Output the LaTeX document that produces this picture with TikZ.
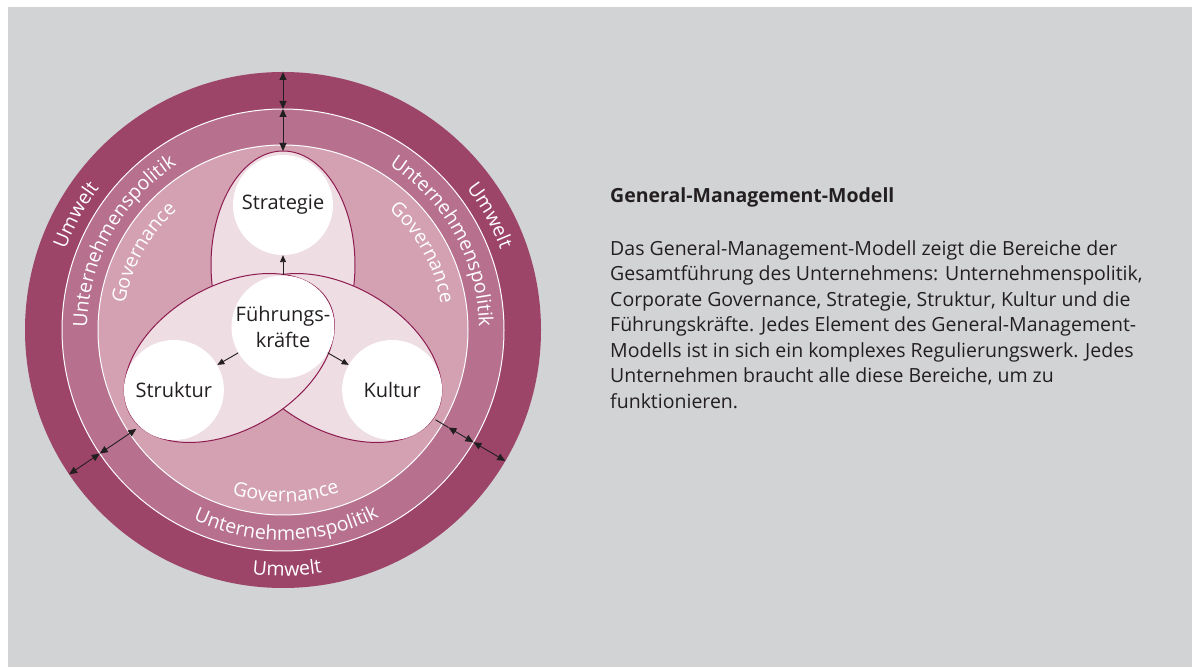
\documentclass[tikz,border=0pt]{standalone}
\usepackage{fontspec}
\setmainfont{Open Sans}
\usepackage{tikz}
\usetikzlibrary{arrows.meta,calc,decorations.text}

\definecolor{bggray}{HTML}{D2D3D5}
\definecolor{umwelt}{HTML}{9D4469}
\definecolor{politik}{HTML}{B7718F}
\definecolor{gov}{HTML}{D3A1B2}
\definecolor{petalfill}{HTML}{EEDDE3}
\definecolor{petaledge}{HTML}{8E1B4F}
\definecolor{ink}{HTML}{231F20}

\newcommand{\ringfont}{\fontsize{19.5}{24}\selectfont\color{white}}

\begin{document}
\begin{tikzpicture}[
    x=1pt, y=1pt,
    ring/.style={draw=white, line width=1pt},
    petal/.style={fill=petalfill, draw=petaledge, line width=1pt},
    topic/.style={circle, fill=white, minimum size=100pt, inner sep=0pt, align=center, font=\fontsize{20}{26}\selectfont, text=ink},
    arrow/.style={-{Triangle[length=7pt,width=6pt]}, line width=0.9pt, draw=ink},
    dim/.style={{Triangle[length=8pt,width=7pt]}-{Triangle[length=8pt,width=7pt]}, line width=0.9pt, draw=ink},
    ringtext/.style={decorate, decoration={text along path, text align=center, text={|\ringfont|#1}}}
  ]

  \useasboundingbox (0,0) rectangle (1192,667);
  \fill[white] (0,0) rectangle (1192,667);
  \fill[bggray] (8,0) rectangle (1192,660);

  \coordinate (C) at (283,337);
  \coordinate (P) at (283,340);

  % rings
  \fill[umwelt] (C) circle[radius=258];
  \path[fill=politik, ring] (C) circle[radius=221];
  \path[fill=gov, ring] (C) circle[radius=185];

  % petals: Strategie, Kultur, Struktur
  \foreach \a in {90,330,210} {
    \begin{scope}[shift={(P)}, rotate=\a]
      \path[petal] (62,0) ellipse[x radius=114, y radius=72];
    \end{scope}
  }

  % ring labels
  \path[ringtext=Umwelt] ($(C)+(201:232)$) arc[start angle=201, end angle=101, radius=232];
  \path[ringtext=Umwelt] ($(C)+(79:232)$) arc[start angle=79, end angle=-21, radius=232];
  \path[ringtext=Umwelt] ($(C)+(221:246)$) arc[start angle=221, end angle=321, radius=246];
  \path[ringtext=Unternehmenspolitik] ($(C)+(206:196)$) arc[start angle=206, end angle=96, radius=196];
  \path[ringtext=Unternehmenspolitik] ($(C)+(84:196)$) arc[start angle=84, end angle=-26, radius=196];
  \path[ringtext=Unternehmenspolitik] ($(C)+(216:210)$) arc[start angle=216, end angle=326, radius=210];
  \path[ringtext=Governance] ($(C)+(201:160)$) arc[start angle=201, end angle=101, radius=160];
  \path[ringtext=Governance] ($(C)+(79:160)$) arc[start angle=79, end angle=-21, radius=160];
  \path[ringtext=Governance] ($(C)+(221:172)$) arc[start angle=221, end angle=321, radius=172];

  % elements
  \node[topic] (strategie) at ($(P)+(90:122)$) {Strategie};
  \node[topic] (struktur) at ($(P)+(210:126)$) {Struktur};
  \node[topic] (kultur) at ($(P)+(330:126)$) {Kultur};
  \node[topic, minimum size=102pt] (fk) at (P) {Führungs-\\kräfte};

  \draw[arrow] (fk) -- (strategie);
  \draw[arrow] (fk) -- (struktur);
  \draw[arrow] (fk) -- (kultur);

  % distance markers
  \coordinate (tOut) at ($(C)+(90:258)$);
  \coordinate (tMid) at ($(C)+(90:221)$);
  \coordinate (tIn) at ($(P)+(90:176)$);
  \coordinate (lOut) at ($(C)+(214:258)$);
  \coordinate (lMid) at ($(C)+(214:221)$);
  \coordinate (lIn) at ($(C)+(214:177)$);
  \coordinate (rOut) at ($(C)+(-30.5:258)$);
  \coordinate (rMid) at ($(C)+(-30.5:221)$);
  \coordinate (rIn) at ($(C)+(-30.5:192)$);
  \coordinate (rEdge) at ($(C)+(-30.5:177)$);

  \draw[dim] (tOut) -- (tMid);
  \draw[dim] (tMid) -- (tIn);
  \draw[dim] (lOut) -- (lMid);
  \draw[dim] (lMid) -- (lIn);
  \draw[dim] (rOut) -- (rMid);
  \draw[dim] (rMid) -- (rIn);
  \draw[line width=0.9pt, ink] (rEdge) -- (rIn);

  % text block
  \node[anchor=base west, inner sep=0pt, text=ink, font=\fontsize{19.5}{25}\selectfont\bfseries] (title) at (610,464) {General-Management-Modell};
  \node[anchor=north west, inner sep=0pt, align=left, text=ink, font=\fontsize{19.5}{25.5}\selectfont] (body) at (610,427) {Das General-Management-Modell zeigt die Bereiche der\\
    Gesamtführung des Unternehmens: Unternehmenspolitik,\\
    Corporate Governance, Strategie, Struktur, Kultur und die\\
    Führungskräfte. Jedes Element des General-Management-\\
    Modells ist in sich ein komplexes Regulierungswerk. Jedes\\
    Unternehmen braucht alle diese Bereiche, um zu\\
    funktionieren.};

\end{tikzpicture}
\end{document}
